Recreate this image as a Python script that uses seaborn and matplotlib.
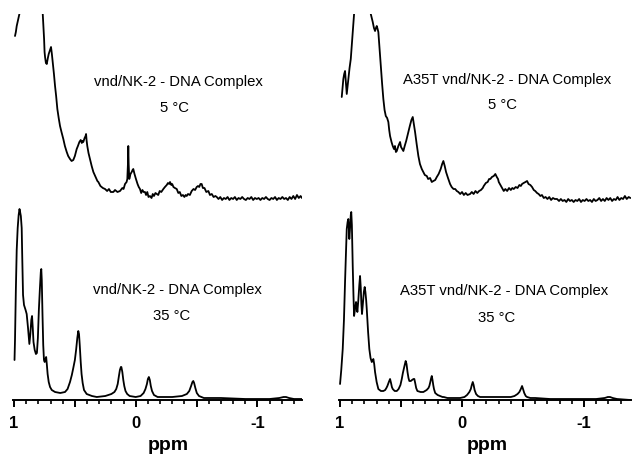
import matplotlib
matplotlib.use("Agg")
import matplotlib.pyplot as plt
from matplotlib.ticker import MultipleLocator
import numpy as np
import seaborn as sns

# 1H NMR traces: chemical shift (ppm) and intensity (arb.)
wt_5c_ppm = [0.992, 0.985, 0.978, 0.965, 0.956, 0.945, 0.920, 0.880, 0.840, 0.800, 0.775, 0.764,
             0.758, 0.753, 0.749, 0.745, 0.738, 0.731, 0.722, 0.715, 0.704, 0.696, 0.689, 0.682,
             0.672, 0.663, 0.654, 0.644, 0.633, 0.622, 0.610, 0.595, 0.582, 0.567, 0.555, 0.540,
             0.527, 0.513, 0.500, 0.485, 0.475, 0.463, 0.452, 0.443, 0.436, 0.431, 0.420, 0.412,
             0.408, 0.404, 0.398, 0.388, 0.376, 0.362, 0.348, 0.330, 0.315, 0.307, 0.290, 0.270,
             0.252, 0.235, 0.220, 0.205, 0.184, 0.170, 0.150, 0.129, 0.110, 0.100, 0.088, 0.075,
             0.069, 0.064, 0.061, 0.058, 0.053, 0.043, 0.033, 0.026, 0.020, 0.010, -0.002, -0.015,
             -0.025, -0.035, -0.045, -0.055, -0.065, -0.076, -0.085, -0.095, -0.105, -0.117, -0.130,
             -0.140, -0.150, -0.162, -0.173, -0.185, -0.197, -0.210, -0.227, -0.240, -0.255, -0.265,
             -0.275, -0.282, -0.292, -0.300, -0.310, -0.322, -0.337, -0.350, -0.362, -0.375, -0.388,
             -0.400, -0.410, -0.419, -0.430, -0.445, -0.460, -0.475, -0.488, -0.501, -0.512, -0.522,
             -0.532, -0.542, -0.552, -0.565, -0.580, -0.597, -0.610, -0.625, -0.640, -0.655, -0.666,
             -0.680, -0.695, -0.710, -0.725, -0.740, -0.755, -0.770, -0.785, -0.800, -0.815, -0.830,
             -0.845, -0.860, -0.875, -0.890, -0.905, -0.920, -0.935, -0.950, -0.965, -0.980, -0.995,
             -1.010, -1.025, -1.040, -1.055, -1.070, -1.085, -1.100, -1.115, -1.130, -1.145, -1.160,
             -1.175, -1.190, -1.205, -1.220, -1.235, -1.250, -1.265, -1.280, -1.295, -1.310, -1.325,
             -1.340, -1.355, -1.366]
wt_5c_int = [168, 172, 178, 185, 190, 215, 250, 275, 280, 260, 215, 190,
             175, 165, 152, 147, 141, 140, 146, 150, 154, 157, 150, 142,
             130, 118, 108, 95, 86, 78, 72, 65, 58, 52, 48, 45,
             43, 44, 48, 55, 58, 62, 64, 61, 63, 62, 66, 68,
             70, 64, 58, 51, 45, 38, 32, 27, 23, 22, 18, 16,
             15, 13, 15, 12, 12, 14, 12, 13, 16, 15, 20, 22,
             25, 40, 58, 40, 25, 30, 32, 34, 35, 30, 25, 20,
             17, 15, 11, 14, 12, 12, 9, 12, 7, 8, 6,
             10, 8, 11, 10, 9, 13, 12, 15, 17, 19, 21,
             20, 22, 19, 20, 17, 16, 15, 11, 12, 8, 9,
             7, 9, 8, 10, 9, 13, 15, 14, 17, 18, 17,
             20, 20, 16, 16, 12, 13, 9, 10, 7, 8, 7,
             5, 7, 4, 6, 5, 7, 4, 6, 5, 7, 4,
             6, 5, 7, 5, 4, 6, 5, 7, 4, 6, 5,
             6, 4, 6, 5, 7, 5, 4, 6, 5, 7, 4,
             6, 5, 7, 5, 6, 4, 7, 5, 8, 5, 9,
             6, 8, 6]

a35t_5c_ppm = [0.986, 0.980, 0.973, 0.966, 0.959, 0.952, 0.945, 0.938, 0.932, 0.922, 0.912, 0.904,
               0.896, 0.885, 0.870, 0.840, 0.800, 0.770, 0.748, 0.740, 0.732, 0.722, 0.713, 0.706,
               0.699, 0.692, 0.686, 0.676, 0.666, 0.655, 0.645, 0.635, 0.625, 0.614, 0.604, 0.597,
               0.590, 0.578, 0.568, 0.558, 0.550, 0.542, 0.535, 0.522, 0.508, 0.500, 0.490, 0.481,
               0.470, 0.458, 0.448, 0.440, 0.428, 0.415, 0.404, 0.395, 0.385, 0.372, 0.358, 0.345,
               0.330, 0.318, 0.305, 0.289, 0.278, 0.262, 0.248, 0.235, 0.220, 0.207, 0.192, 0.175,
               0.163, 0.153, 0.142, 0.131, 0.115, 0.098, 0.085, 0.070, 0.056, 0.043, 0.030, 0.015,
               0.000, -0.015, -0.030, -0.045, -0.066, -0.080, -0.095, -0.110, -0.125, -0.140, -0.155,
               -0.170, -0.178, -0.195, -0.210, -0.222, -0.232, -0.245, -0.260, -0.273, -0.285, -0.295,
               -0.301, -0.315, -0.328, -0.342, -0.355, -0.370, -0.385, -0.400, -0.412, -0.424, -0.440,
               -0.455, -0.470, -0.482, -0.492, -0.505, -0.520, -0.533, -0.545, -0.560, -0.574, -0.588,
               -0.600, -0.615, -0.628, -0.642, -0.655, -0.670, -0.685, -0.700, -0.715, -0.730, -0.745,
               -0.760, -0.779, -0.795, -0.810, -0.825, -0.840, -0.855, -0.870, -0.885, -0.900, -0.915,
               -0.930, -0.945, -0.960, -0.975, -0.990, -1.005, -1.020, -1.035, -1.050, -1.065, -1.080,
               -1.095, -1.110, -1.125, -1.140, -1.155, -1.170, -1.185, -1.200, -1.215, -1.230, -1.245,
               -1.260, -1.275, -1.290, -1.305, -1.320, -1.335, -1.350, -1.366, -1.380]
a35t_5c_int = [107, 115, 125, 130, 133, 122, 110, 118, 125, 136, 145, 158,
               172, 190, 225, 255, 265, 230, 190, 186, 182, 176, 173, 176,
               178, 175, 172, 155, 138, 120, 105, 94, 88, 86, 82, 74,
               68, 62, 58, 55, 58, 52, 53, 58, 62, 57, 55, 53,
               58, 63, 68, 72, 78, 84, 87, 80, 72, 60, 48, 40,
               35, 32, 29, 28, 25, 26, 22, 23, 24, 27, 30, 35,
               40, 43, 38, 32, 26, 20, 17, 15, 15, 13, 12, 10,
               12, 9, 11, 9, 10, 12, 10, 13, 11, 13, 14,
               16, 18, 21, 22, 25, 25, 27, 28, 30, 27, 25,
               22, 19, 16, 13, 15, 13, 16, 14, 16, 15, 17,
               16, 19, 18, 20, 21, 22, 23, 20, 19, 17, 14,
               13, 11, 10, 8, 9, 6, 7, 5, 7, 4, 6,
               5, 5, 3, 5, 3, 4, 2, 5, 3, 4, 2,
               4, 3, 5, 2, 4, 3, 5, 3, 4, 2, 5,
               3, 4, 6, 3, 5, 3, 6, 4, 6, 3, 5,
               4, 7, 4, 6, 5, 8, 5, 7, 6]

wt_35c_ppm = [0.996, 0.992, 0.985, 0.978, 0.970, 0.962, 0.955, 0.950, 0.944, 0.937, 0.932, 0.926,
              0.918, 0.905, 0.896, 0.885, 0.874, 0.866, 0.858, 0.852, 0.846, 0.840, 0.830, 0.820,
              0.812, 0.804, 0.796, 0.788, 0.780, 0.776, 0.772, 0.766, 0.760, 0.754, 0.748, 0.742,
              0.736, 0.730, 0.724, 0.715, 0.704, 0.690, 0.663, 0.620, 0.581, 0.560, 0.540, 0.525,
              0.513, 0.500, 0.490, 0.480, 0.472, 0.466, 0.460, 0.452, 0.445, 0.436, 0.425, 0.403,
              0.360, 0.320, 0.250, 0.200, 0.175, 0.160, 0.148, 0.138, 0.130, 0.122, 0.118, 0.110,
              0.102, 0.094, 0.084, 0.070, 0.050, 0.000, -0.040, -0.065, -0.080, -0.092, -0.100,
              -0.108, -0.116, -0.124, -0.134, -0.150, -0.180, -0.300, -0.380, -0.420, -0.440, -0.455,
              -0.466, -0.473, -0.480, -0.490, -0.502, -0.520, -0.560, -0.700, -0.900, -1.100, -1.180,
              -1.215, -1.235, -1.260, -1.300, -1.366]
wt_35c_int = [40, 60, 110, 150, 172, 185, 191, 188, 184, 172, 140, 105,
              95, 90, 86, 72, 56, 66, 80, 84, 72, 58, 50, 46,
              47, 62, 90, 110, 128, 131, 120, 85, 55, 40, 38, 41,
              43, 35, 26, 18, 13, 10, 8, 7, 8, 11, 18, 25,
              32, 40, 50, 62, 69, 66, 55, 38, 26, 17, 10, 6,
              4, 3, 4, 6, 8, 11, 16, 24, 30, 33, 33, 28,
              20, 14, 9, 6, 4, 3, 4, 7, 11, 16, 21,
              23, 20, 14, 9, 5, 3, 3, 4, 6, 9, 14,
              18, 19, 17, 12, 7, 4, 2, 2, 1, 1, 2,
              3, 3, 2, 1, 1]

a35t_35c_ppm = [1.000, 0.990, 0.978, 0.968, 0.959, 0.952, 0.945, 0.938, 0.932, 0.928, 0.924, 0.918,
                0.912, 0.908, 0.903, 0.896, 0.890, 0.885, 0.878, 0.869, 0.863, 0.858, 0.850, 0.842,
                0.836, 0.830, 0.825, 0.820, 0.813, 0.805, 0.798, 0.792, 0.786, 0.781, 0.770, 0.760,
                0.750, 0.740, 0.733, 0.727, 0.720, 0.713, 0.700, 0.686, 0.665, 0.645, 0.630, 0.620,
                0.612, 0.600, 0.590, 0.582, 0.575, 0.568, 0.552, 0.535, 0.520, 0.505, 0.494, 0.485,
                0.472, 0.462, 0.455, 0.447, 0.439, 0.432, 0.420, 0.410, 0.398, 0.391, 0.384, 0.376,
                0.366, 0.340, 0.317, 0.290, 0.275, 0.268, 0.260, 0.253, 0.248, 0.242, 0.236, 0.230,
                0.220, 0.200, 0.180, 0.160, 0.150, 0.120, 0.070, 0.016, -0.020, -0.041, -0.060,
                -0.072, -0.080, -0.088, -0.095, -0.103, -0.115, -0.130, -0.148, -0.250, -0.400, -0.430,
                -0.455, -0.470, -0.482, -0.492, -0.500, -0.510, -0.522, -0.533, -0.560, -0.600, -0.721,
                -0.900, -1.100, -1.170, -1.195, -1.213, -1.235, -1.270, -1.380]
a35t_35c_int = [16, 30, 51, 80, 118, 145, 171, 178, 181, 172, 161, 172,
                185, 188, 175, 134, 105, 84, 90, 98, 94, 88, 100, 115,
                124, 112, 96, 86, 96, 108, 113, 108, 100, 91, 68, 51,
                42, 38, 39, 41, 36, 28, 18, 11, 9, 9, 10, 12,
                14, 18, 21, 17, 13, 11, 9, 9, 11, 15, 21, 27,
                34, 39, 36, 28, 22, 19, 19, 20, 21, 21, 17, 12,
                9, 8, 8, 10, 12, 14, 18, 22, 24, 20, 15, 11,
                7, 5, 4, 3, 3, 2, 2, 2, 3, 5, 8,
                11, 15, 18, 15, 10, 6, 4, 3, 3, 3, 4,
                6, 8, 11, 14, 11, 7, 4, 3, 2, 2, 1,
                1, 1, 2, 3, 3, 2, 1, 0]

titles = ["vnd/NK-2 - DNA Complex", "A35T vnd/NK-2 - DNA Complex"]
temps = ["5 °C", "35 °C"]
tick_vals = [1, 0.5, 0, -0.5, -1]
tick_text = ["1", "", "0", "", "-1"]

sns.set_theme(style="ticks")
plt.rcParams['font.family'] = ['Liberation Sans', 'DejaVu Sans']
plt.rcParams['axes.unicode_minus'] = False
plt.rcParams['text.color'] = 'black'
plt.rcParams['xtick.color'] = 'black'
plt.rcParams['axes.labelcolor'] = 'black'
plt.rcParams['axes.edgecolor'] = 'black'

W, H = 634, 456
fig = plt.figure(figsize=(W / 100, H / 100), dpi=100)


def px_axes(x0, x1, ytop, ybot):
    return fig.add_axes([x0 / W, 1 - ybot / H, (x1 - x0) / W, (ybot - ytop) / H])


cols = [(13.3, 301.7, (1.006, -1.364)), (338.7, 631.0, (1.011, -1.385))]
traces = [[(wt_5c_ppm, wt_5c_int), (a35t_5c_ppm, a35t_5c_int)],
          [(wt_35c_ppm, wt_35c_int), (a35t_35c_ppm, a35t_35c_int)]]
rows = [(15, 205), (205, 401)]
text_pos = [[((178, 82), (175, 108)), ((507, 80), (502, 105))],
            [((177, 290), (172, 316)), ((504, 291), (497, 318))]]
label_x = [0.536, 0.507]

for r, (ytop, ybot) in enumerate(rows):
    for c, (x0, x1, xlim) in enumerate(cols):
        ax = px_axes(x0, x1, ytop, ybot)
        ppm, inten = traces[r][c]
        sns.lineplot(x=ppm, y=inten, ax=ax, color='black', linewidth=1.3,
                     estimator=None, sort=False)
        ax.set_xlim(*xlim)
        ax.set_ylim(0, ybot - ytop)
        ax.set_ylabel('')
        ax.set_yticks([])
        for s in ['left', 'top', 'right']:
            ax.spines[s].set_visible(False)
        if r == 0:
            ax.spines['bottom'].set_visible(False)
            ax.set_xticks([])
        else:
            ax.spines['bottom'].set_linewidth(1.4)
            ax.set_xticks(tick_vals, tick_text, fontweight='bold', fontsize=12)
            ax.xaxis.set_minor_locator(MultipleLocator(0.1))
            ax.tick_params(axis='x', which='major', bottom=True, direction='out',
                           length=5, width=1.4, pad=6, color='black')
            ax.tick_params(axis='x', which='minor', bottom=True, direction='out',
                           length=3, width=1.2, color='black')
            ax.set_xlabel('ppm', fontweight='bold', fontsize=14)
            ax.xaxis.set_label_coords(label_x[c], -0.185)
        (tx, ty), (sx, sy) = text_pos[r][c]
        fig.text(tx / W, 1 - ty / H, titles[c], ha='center', va='center', fontsize=10.7)
        fig.text(sx / W, 1 - sy / H, temps[r], ha='center', va='center', fontsize=10.7)

fig.savefig('out.png', dpi=100, facecolor='white')
